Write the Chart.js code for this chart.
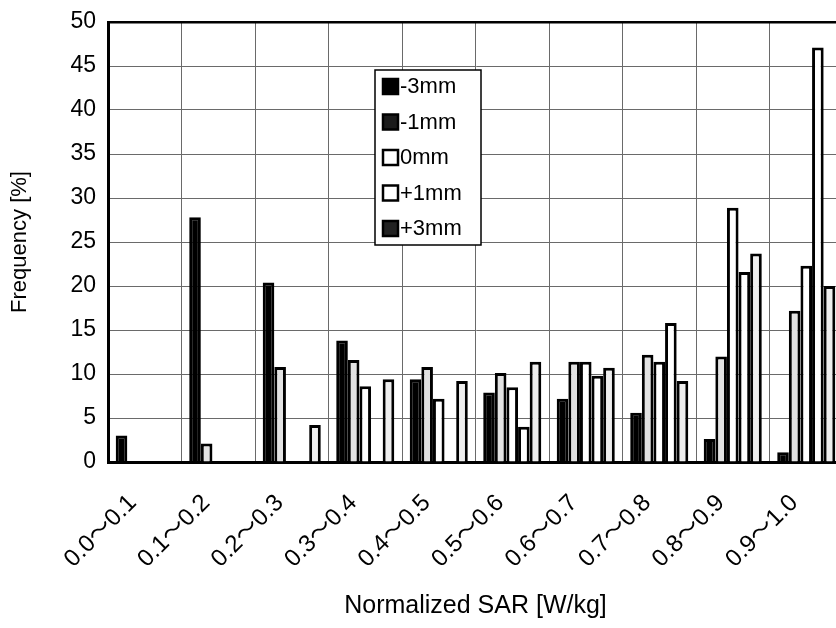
<!DOCTYPE html>
<html>
<head>
<meta charset="utf-8">
<script src="https://cdn.jsdelivr.net/npm/chart.js@4/dist/chart.umd.min.js"></script>
<style>
  html, body { margin: 0; padding: 0; background: #fff; overflow: hidden; }
  #wrap { width: 860px; height: 628px; position: relative; }
</style>
</head>
<body>
<div id="wrap"><canvas id="sarChart"></canvas></div>
<script>
// Data
const categories = ['0.0～0.1', '0.1～0.2', '0.2～0.3', '0.3～0.4', '0.4～0.5',
                    '0.5～0.6', '0.6～0.7', '0.7～0.8', '0.8～0.9', '0.9～1.0'];
const seriesNames = ['-3mm', '-1mm', '0mm', '+1mm', '+3mm'];
const minus3 = [3.0, 27.8, 20.4, 13.8, 9.4, 7.9, 7.2, 5.6, 2.6, 1.1];
const minus1 = [0, 2.1, 10.8, 11.6, 10.8, 10.1, 11.4, 12.2, 12.0, 17.2];
const zero   = [0, 0, 0, 8.6, 7.2, 8.5, 11.4, 11.4, 28.9, 22.3];
const plus1  = [0, 0, 0, 0, 0, 4.0, 9.8, 15.8, 21.6, 47.1];
const plus3  = [0, 0, 4.2, 9.4, 9.2, 11.4, 10.7, 9.2, 23.7, 20.0];
const yTicks = [0, 5, 10, 15, 20, 25, 30, 35, 40, 45, 50];

const FONT = '"Liberation Sans", Arial, "Noto Sans CJK JP", sans-serif';
const fills = ['#000000', '#e2e2e2', '#ffffff', '#ffffff', '#eeeeee'];
const legendFills = ['#000000', '#1a1a1a', '#ffffff', '#ffffff', '#222222'];

function makeDataset(label, data, i) {
    return {
        label: label,
        data: data,
        backgroundColor: fills[i],
        borderColor: '#000000',
        borderWidth: 3,
        borderSkipped: 'start',
        barPercentage: 1.0,
        categoryPercentage: 0.79
    };
}

// legend drawn inside the plot area
const boxLegend = {
    id: 'boxLegend',
    afterDraw(chart) {
        const ctx = chart.ctx;
        const x = 375, y = 70, w = 106, h = 175;
        ctx.save();
        ctx.fillStyle = '#fff';
        ctx.fillRect(x, y, w, h);
        ctx.strokeStyle = '#000';
        ctx.lineWidth = 1.5;
        ctx.strokeRect(x, y, w, h);
        ctx.font = '22px ' + FONT;
        ctx.textBaseline = 'middle';
        seriesNames.forEach((name, i) => {
            const cy = y + 16 + i * 35.5;
            ctx.fillStyle = legendFills[i];
            ctx.fillRect(x + 8, cy - 7, 15, 15);
            ctx.lineWidth = 2.5;
            ctx.strokeStyle = '#000';
            ctx.strokeRect(x + 8, cy - 7, 15, 15);
            ctx.fillStyle = '#000';
            ctx.fillText(name, x + 25, cy + 1);
        });
        ctx.restore();
    }
};

function initChart() {
    const ctx = document.getElementById('sarChart');
    const series = [minus3, minus1, zero, plus1, plus3];
    new Chart(ctx, {
        type: 'bar',
        data: {
            labels: categories,
            datasets: series.map((d, i) => makeDataset(seriesNames[i], d, i))
        },
        options: {
            responsive: true,
            maintainAspectRatio: false,
            animation: false,
            layout: { padding: { top: 22, right: 17, left: 0, bottom: 0 } },
            plugins: {
                legend: { display: false },
                tooltip: { enabled: false }
            },
            scales: {
                x: {
                    afterFit: (s) => { s.height = 166; },
                    grid: { color: '#6a6a6a', lineWidth: 1, drawTicks: false, offset: true },
                    border: { color: '#000', width: 3 },
                    ticks: {
                        color: '#000',
                        font: { family: FONT, size: 24 },
                        maxRotation: 45,
                        minRotation: 45,
                        labelOffset: -12,
                        padding: 27
                    },
                    title: {
                        display: true,
                        text: 'Normalized SAR [W/kg]',
                        color: '#000',
                        font: { family: FONT, size: 25 },
                        padding: { top: 0, bottom: 7 }
                    }
                },
                y: {
                    min: 0,
                    max: 50,
                    afterFit: (s) => { s.width = 108; s.paddingTop = 0; s.paddingBottom = 0; },
                    afterBuildTicks: (s) => { s.ticks = yTicks.map(v => ({ value: v })); },
                    grid: {
                        color: (c) => c.tick && c.tick.value === 50 ? '#000' : '#6a6a6a',
                        lineWidth: (c) => c.tick && c.tick.value === 50 ? 2.5 : 1,
                        drawTicks: false
                    },
                    border: { color: '#000', width: 3 },
                    ticks: {
                        color: '#000',
                        font: { family: FONT, size: 23 },
                        padding: 12
                    },
                    title: {
                        display: true,
                        text: 'Frequency [%]',
                        color: '#000',
                        font: { family: FONT, size: 22 },
                        padding: { top: 7, bottom: 0 }
                    }
                }
            }
        },
        plugins: [boxLegend]
    });
}

document.addEventListener('DOMContentLoaded', initChart);
</script>
</body>
</html>
